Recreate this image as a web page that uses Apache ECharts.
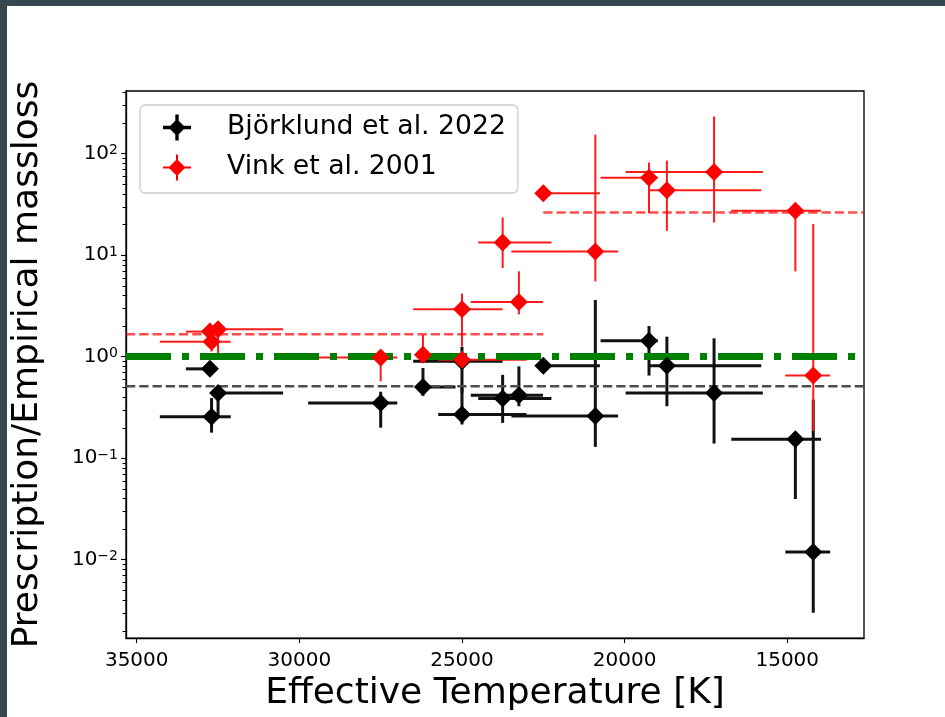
<!DOCTYPE html>
<html>
<head>
<meta charset="utf-8">
<script src="https://cdn.jsdelivr.net/npm/echarts@6/dist/echarts.min.js"></script>
<style>
  html, body { margin: 0; padding: 0; background: #ffffff; }
  #chart { width: 945px; height: 717px; }
</style>
</head>
<body>
<div id="chart"></div>
<script>
// Effective temperature of each star [K], with the hot/cool ends of its uncertainty
const teff     = [32750, 32500, 32700, 27500, 26200, 25000, 25000, 23750, 23250, 22500, 20900, 19250, 18700, 17250, 14750, 14200];
const teffHot  = [33490, 32700, 34290, 29730, 26350, 26500, 25730, 24500, 24730, 22500, 23480, 20740, 19250, 19970, 16720, 15060];
const teffCool = [32550, 30500, 32110, 26990, 25200, 23750, 23020, 22250, 22510, 20760, 20200, 18980, 15800, 15750, 13960, 13680];

// Prescription / empirical mass-loss ratio, Björklund et al. 2022
const bjorklund   = [0.756, 0.437, 0.255, 0.349, 0.50, 0.90, 0.268, 0.385, 0.415, 0.81, 0.259, 1.43, 0.81, 0.437, 0.153, 0.0119];
const bjorklundLo = [0.72, 0.25, 0.178, 0.199, 0.41, 0.44, 0.214, 0.222, 0.324, 0.77, 0.129, 0.65, 0.324, 0.139, 0.0395, 0.0030];
const bjorklundHi = [0.80, 0.50, 0.39, 0.45, 0.77, 1.25, 0.50, 0.66, 0.80, 0.86, 3.6, 2.0, 1.57, 1.51, 0.17, 0.377];

// Prescription / empirical mass-loss ratio, Vink et al. 2001
const vink   = [1.76, 1.86, 1.40, 0.98, 1.04, 2.92, 0.93, 13.3, 3.45, 40.5, 10.8, 57.7, 43.4, 65.5, 27.2, 0.652];
const vinkLo = [1.60, 1.08, 1.12, 0.57, 0.95, 1.26, 0.85, 7.43, 2.6, 38.0, 5.5, 25.8, 17.3, 20.9, 6.9, 0.185];
const vinkHi = [1.95, 2.10, 1.55, 1.10, 1.63, 4.17, 1.05, 23.4, 6.9, 43.0, 153, 81.5, 85, 231, 30, 20.2];

// Reference levels
const unityLevel = 1;
const bjorklundMean = 0.51;
const vinkMeanHot = 1.66;    // stars hotter than the bistability split
const vinkMeanCool = 26.2;   // stars cooler than the split
const splitTeff = 22500;

// Axis ranges and ticks
const teffRange = [12640, 35330];
const ratioRange = [0.001687, 412];
const teffTicks = [15000, 20000, 25000, 30000, 35000];
const ratioTicks = [0.01, 0.1, 1, 10, 100];
const minorDecades = [-3, -2, -1, 0, 1, 2];

const FONT = 'DejaVu Sans';

// log-axis minor ticks at 2..9 x 10^n inside the visible range
const minorTicks = [];
minorDecades.forEach(function (d) {
  for (let k = 2; k <= 9; k++) {
    const v = k * Math.pow(10, d);
    if (v >= ratioRange[0] && v <= ratioRange[1]) minorTicks.push(v);
  }
});

function rows(t, tHot, tCool, v, lo, hi) {
  return t.map(function (_, i) { return [t[i], tHot[i], tCool[i], v[i], lo[i], hi[i]]; });
}
function points(t, v) {
  return t.map(function (_, i) { return [t[i], v[i]]; });
}

function errorBars(color, width) {
  return function (params, api) {
    const t = api.value(0), tHot = api.value(1), tCool = api.value(2);
    const v = api.value(3), lo = api.value(4), hi = api.value(5);
    const a = api.coord([tHot, v]), b = api.coord([tCool, v]);
    const c = api.coord([t, lo]), d = api.coord([t, hi]);
    const style = { stroke: color, lineWidth: width, fill: null };
    return {
      type: 'group',
      children: [
        { type: 'line', shape: { x1: a[0], y1: a[1], x2: b[0], y2: b[1] }, style: style },
        { type: 'line', shape: { x1: c[0], y1: c[1], x2: d[0], y2: d[1] }, style: style }
      ]
    };
  };
}

// short outward ticks on the left spine
function minorTickMark(params, api) {
  const p = api.coord([teffRange[1], api.value(1)]);
  const x = p[0];
  const y = Math.round(p[1]) + 0.5;
  return {
    type: 'line',
    shape: { x1: x - 3.5, y1: y, x2: x, y2: y },
    style: { stroke: '#000', lineWidth: 1 }
  };
}

function hLine(name, level, from, to, color, width, dash) {
  return {
    name: name, type: 'line', silent: true, showSymbol: false, symbol: 'none',
    data: [[from, level], [to, level]],
    lineStyle: { color: color, width: width, type: dash, cap: 'butt' },
    animation: false
  };
}

// legend handles: diamond with error-bar cross
const handleBlack = 'path://M0 11.3L28 11.3L28 14.7L0 14.7Z M12.3 0L15.7 0L15.7 26L12.3 26Z M14 4.5L22.5 13L14 21.5L5.5 13Z';
const handleRed = 'path://M0 12L28 12L28 14L0 14Z M13 0L15 0L15 26L13 26Z M14 4.5L22.5 13L14 21.5L5.5 13Z';

const chart = echarts.init(document.getElementById('chart'), null, { renderer: 'canvas' });

const option = {
  backgroundColor: '#ffffff',
  animation: false,
  textStyle: { fontFamily: FONT },
  graphic: [
    { type: 'rect', z: 100, shape: { x: 0, y: 0, width: 945, height: 6 }, style: { fill: '#37474f' } },
    { type: 'rect', z: 100, shape: { x: 0, y: 0, width: 7, height: 717 }, style: { fill: '#37474f' } }
  ],
  grid: {
    left: 126, top: 91, width: 738, height: 551,
    show: true, borderColor: '#000', borderWidth: 1.3, backgroundColor: 'transparent'
  },
  legend: {
    orient: 'vertical', left: 140, top: 105,
    padding: [9, 12, 12, 23],
    itemWidth: 28, itemHeight: 26, itemGap: 13,
    backgroundColor: 'rgba(255,255,255,0.8)',
    borderColor: '#cccccc', borderWidth: 1.3, borderRadius: 5,
    textStyle: { fontFamily: FONT, fontSize: 26.67, color: '#000', lineHeight: 26, padding: [0, 0, 0, 31] },
    data: [
      { name: 'Björklund et al. 2022', icon: handleBlack },
      { name: 'Vink et al. 2001', icon: handleRed }
    ]
  },
  xAxis: {
    type: 'value', inverse: true, min: teffRange[0], max: teffRange[1],
    name: 'Effective Temperature [K]', nameLocation: 'middle', nameGap: 37,
    nameTextStyle: { fontFamily: FONT, fontSize: 36, color: '#000' },
    axisLine: { show: true, onZero: false, lineStyle: { color: '#000', width: 1.3 } },
    axisTick: { show: true, length: 5, lineStyle: { color: '#000', width: 1.1 }, customValues: teffTicks },
    axisLabel: {
      fontFamily: FONT, fontSize: 20, color: '#000', margin: 13, customValues: teffTicks,
      formatter: function (value) { return String(Math.round(value)); }
    },
    splitLine: { show: false }
  },
  yAxis: {
    type: 'log', logBase: 10, min: ratioRange[0], max: ratioRange[1],
    name: 'Prescription/Empirical massloss', nameLocation: 'middle', nameGap: 80, nameRotate: 90,
    nameTextStyle: { fontFamily: FONT, fontSize: 36, color: '#000' },
    axisLine: { show: true, onZero: false, lineStyle: { color: '#000', width: 1.3 } },
    axisTick: { show: true, length: 5, lineStyle: { color: '#000', width: 1.1 }, customValues: ratioTicks },
    axisLabel: {
      margin: 8, customValues: ratioTicks,
      formatter: function (value) {
        const e = Math.round(Math.log10(value));
        return '{b|10}{s|' + (e < 0 ? '\u2212' + (-e) : e) + '}';
      },
      rich: {
        b: { fontFamily: FONT, fontSize: 20, lineHeight: 20, color: '#000', verticalAlign: 'bottom' },
        s: { fontFamily: FONT, fontSize: 14, lineHeight: 14, color: '#000', verticalAlign: 'top', padding: [0, 0, 11, 0] }
      }
    },
    splitLine: { show: false }
  },
  series: [
    {
      name: 'minor ticks', type: 'custom', renderItem: minorTickMark,
      data: minorTicks.map(function (v) { return [teffRange[1], v]; }),
      encode: { x: 0, y: 1 }, clip: false, silent: true, z: 1
    },
    {
      name: 'Björklund errors', type: 'custom', renderItem: errorBars('#111111', 3),
      data: rows(teff, teffHot, teffCool, bjorklund, bjorklundLo, bjorklundHi),
      encode: { x: [0, 1, 2], y: [3, 4, 5] }, silent: true, z: 2
    },
    {
      name: 'Vink errors', type: 'custom', renderItem: errorBars('#ff1a1a', 2),
      data: rows(teff, teffHot, teffCool, vink, vinkLo, vinkHi),
      encode: { x: [0, 1, 2], y: [3, 4, 5] }, silent: true, z: 2
    },
    hLine('Björklund mean', bjorklundMean, teffRange[1], teffRange[0], '#4d4d4d', 2.5, [9.25, 4]),
    hLine('Vink mean hot', vinkMeanHot, teffRange[1], splitTeff, 'rgba(255,0,0,0.7)', 2.5, [9.25, 4]),
    hLine('Vink mean cool', vinkMeanCool, splitTeff, teffRange[0], 'rgba(255,0,0,0.7)', 2.5, [9.25, 4]),
    hLine('Unity', unityLevel, teffRange[1], teffRange[0], '#008000', 7, [45, 11, 7, 11]),
    {
      name: 'Björklund et al. 2022', type: 'scatter', symbol: 'diamond', symbolSize: 18,
      itemStyle: { color: '#000000', opacity: 1 }, data: points(teff, bjorklund), z: 3
    },
    {
      name: 'Vink et al. 2001', type: 'scatter', symbol: 'diamond', symbolSize: 18,
      itemStyle: { color: '#ff0000', opacity: 1 }, data: points(teff, vink), z: 3
    }
  ]
};

chart.setOption(option);
</script>
</body>
</html>
